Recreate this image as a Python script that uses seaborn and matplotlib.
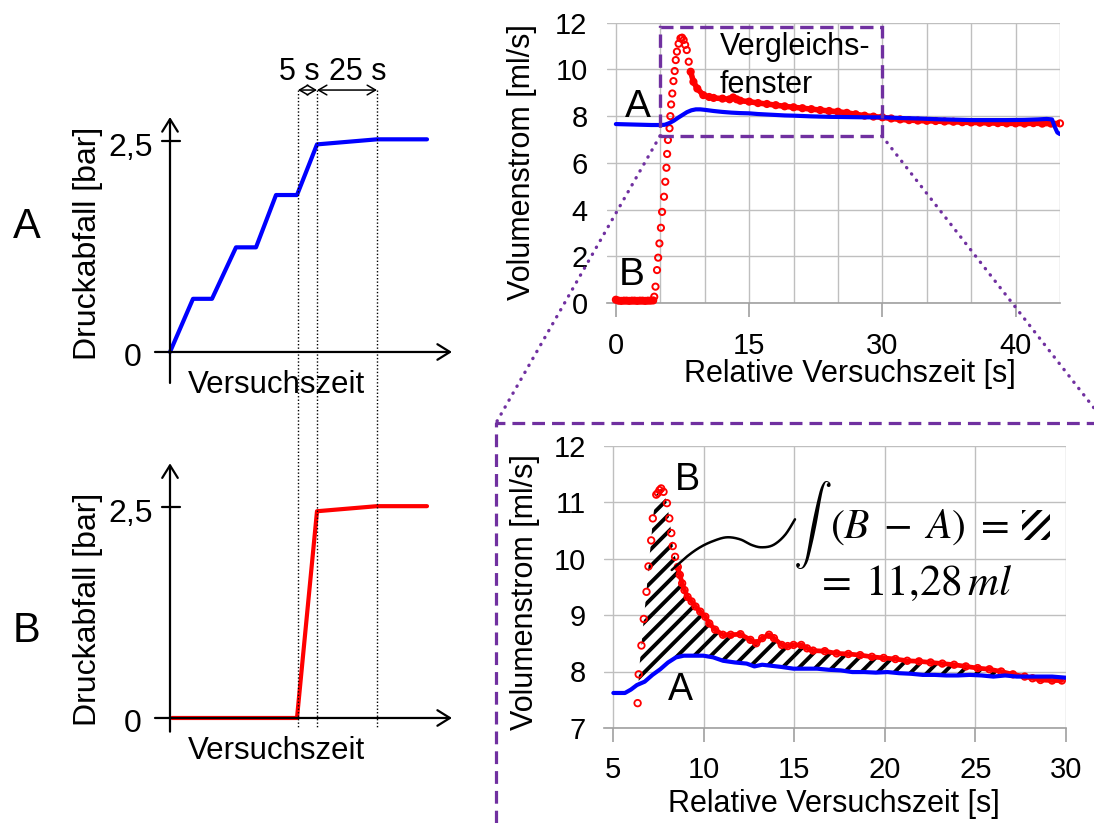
import numpy as np
import pandas as pd
import matplotlib
matplotlib.use("Agg")
import matplotlib.pyplot as plt
import matplotlib.transforms as mtransforms
from matplotlib.lines import Line2D
from matplotlib.patches import Rectangle
import seaborn as sns

# ---------------- data ----------------
# schematic pressure curves (arbitrary time units)
schem_t_A = [0, 1.15, 2.1, 3.3, 4.3, 5.3, 6.35, 7.35, 10.35, 12.85]
schem_p_A = [0, 0.63, 0.63, 1.24, 1.24, 1.86, 1.86, 2.46, 2.52, 2.52]
schem_t_B = [0.1, 6.35, 7.35, 10.35, 12.85]
schem_p_B = [0, 0, 2.45, 2.51, 2.51]
guide_times = [6.4, 7.35, 10.35]
guide_labels = ["5 s", "25 s"]
guide_label_t = [6.45, 9.39]

# overview chart (0-50 s)
red_t_top = [0.0, 0.3, 0.6, 0.9, 1.2, 1.5, 1.8, 2.1, 2.4, 2.7, 3.0, 3.3, 3.6, 3.9, 4.2,
             4.32, 4.46, 4.63, 4.76, 4.90, 5.07, 5.20, 5.42, 5.56, 5.69, 5.77, 5.86, 6.04,
             6.13, 6.22, 6.35, 6.48, 6.62, 6.74, 6.87, 7.06, 7.27, 7.45, 7.63, 7.80, 7.98,
             8.20, 8.42, 8.73, 9.17, 9.84,
             10.5, 11, 12, 12.8, 13.2, 13.6, 14, 15, 16, 17, 18, 19, 20, 21, 22, 23, 24, 25,
             26, 27, 28, 29, 30, 31, 32, 33, 34, 35, 36, 37, 38, 39, 40, 41, 42, 43, 44, 45,
             46, 47, 48, 49, 50]
red_v_top = [0.14, 0.10, 0.09, 0.10, 0.10, 0.09, 0.10, 0.10, 0.09, 0.10, 0.10, 0.09, 0.10, 0.10, 0.11,
             0.27, 0.70, 1.41, 1.94, 2.55, 3.22, 3.90, 4.55, 5.19, 5.79, 6.38, 6.98, 7.48,
             8.00, 8.50, 8.97, 9.50, 9.93, 10.40, 10.76, 11.10, 11.33, 11.36, 11.26, 11.05, 10.83,
             10.33, 9.90, 9.47, 9.18, 8.90,
             8.82, 8.78, 8.75, 8.72, 8.80, 8.72, 8.66, 8.62, 8.56, 8.52, 8.47, 8.42, 8.38, 8.34,
             8.30, 8.26, 8.22, 8.19, 8.14, 8.08, 8.02, 7.98, 7.95, 7.90, 7.86, 7.83, 7.81, 7.80,
             7.79, 7.77, 7.76, 7.74, 7.73, 7.72, 7.71, 7.70, 7.69, 7.69, 7.68, 7.70, 7.68, 7.68, 7.69]
blue_t_top = [0, 1, 2, 3, 4, 5, 5.5, 6, 6.5, 7, 7.5, 8, 8.5, 9, 9.5, 10, 11, 12, 13, 14, 15, 16,
              17, 18, 19, 20, 22, 24, 26, 28, 30, 32, 34, 36, 38, 40, 42, 44, 46, 47.5, 48.5,
              49.1, 49.4, 49.7, 50]
blue_v_top = [7.66, 7.65, 7.64, 7.63, 7.62, 7.62, 7.63, 7.70, 7.80, 7.93, 8.05, 8.17, 8.25, 8.29,
              8.29, 8.27, 8.22, 8.18, 8.15, 8.13, 8.12, 8.09, 8.07, 8.05, 8.03, 8.02, 7.99, 7.97,
              7.96, 7.95, 7.95, 7.92, 7.90, 7.87, 7.85, 7.83, 7.83, 7.83, 7.84, 7.86, 7.88, 7.86,
              7.55, 7.30, 7.23]
top_xticks = [0, 15, 30, 45]
top_xticklabels = ["0", "15", "30", "40"]
window = (5, 30, 7.15, 11.83)  # comparison window: t0, t1, v0, v1

# zoomed chart (5-30 s)
red_t_zoom = [6.34, 6.40, 6.55, 6.68, 6.83, 6.94, 7.09, 7.18, 7.37, 7.46, 7.55, 7.64, 7.77, 7.96,
              8.09, 8.20, 8.28, 8.41, 8.56, 8.67, 8.80, 8.93, 9.10, 9.32, 9.54, 9.80, 10.08, 10.30,
              10.62, 11.05, 11.48, 12.02, 12.57, 12.89, 13.22, 13.60, 13.87, 14.30, 14.63, 14.95,
              15.38, 15.70, 16.03, 16.68, 17.33, 17.98, 18.63, 19.28, 19.93, 20.58, 21.23, 21.88,
              22.52, 23.17, 23.82, 24.47, 25.12, 25.77, 26.42, 27.07, 27.72, 28.15, 28.59, 29.23, 29.77]
red_v_zoom = [7.44, 7.95, 8.46, 8.93, 9.41, 9.86, 10.32, 10.71, 11.13, 11.16, 11.21, 11.24, 11.18,
              10.98, 10.71, 10.45, 10.22, 10.03, 9.85, 9.71, 9.56, 9.44, 9.32, 9.24, 9.15, 9.06,
              8.97, 8.85, 8.74, 8.65, 8.65, 8.66, 8.56, 8.50, 8.59, 8.65, 8.59, 8.47, 8.45, 8.47,
              8.47, 8.41, 8.37, 8.36, 8.32, 8.31, 8.29, 8.26, 8.24, 8.22, 8.19, 8.18, 8.16, 8.14,
              8.12, 8.09, 8.06, 8.04, 8.00, 7.95, 7.91, 7.88, 7.85, 7.84, 7.84]
blue_t_zoom = [5.0, 5.64, 5.97, 6.30, 6.73, 7.16, 7.59, 8.02, 8.46, 8.89, 9.43, 9.97, 10.52, 11.06,
               11.71, 12.36, 12.79, 13.22, 13.76, 14.30, 14.95, 15.60, 16.25, 16.90, 17.55, 18.20,
               18.85, 19.50, 20.14, 20.79, 21.44, 22.09, 22.74, 23.39, 24.04, 24.69, 25.34, 25.99,
               26.64, 27.28, 27.93, 28.58, 29.23, 30.0]
blue_v_zoom = [7.62, 7.62, 7.68, 7.76, 7.82, 7.94, 8.04, 8.16, 8.25, 8.28, 8.28, 8.28, 8.25, 8.19,
               8.16, 8.14, 8.09, 8.12, 8.10, 8.08, 8.05, 8.05, 8.05, 8.03, 8.02, 7.99, 7.99, 7.98,
               7.99, 7.97, 7.96, 7.94, 7.94, 7.93, 7.93, 7.94, 7.93, 7.91, 7.93, 7.91, 7.91, 7.91,
               7.91, 7.89]
integral_range = (6.4, 27.7)
integral_value = "11{,}28"

# ---------------- style ----------------
sns.set_theme(style="white")
plt.rcParams["font.family"] = ["Liberation Sans", "DejaVu Sans"]
plt.rcParams["mathtext.fontset"] = "stix"
plt.rcParams["hatch.linewidth"] = 2.8
plt.rcParams["hatch.color"] = "black"
for k in ("text.color", "axes.labelcolor", "xtick.color", "ytick.color"):
    plt.rcParams[k] = "black"

RED = "#FF0000"
BLUE = "#0000FF"
PURPLE = "#7030A0"
GRID = "#BFBFBF"
AXIS = "#A0A0A0"

W, H = 1094, 823
fig = plt.figure(figsize=(W / 100, H / 100), dpi=100)
fig.patch.set_facecolor("white")


def axes_px(left, top, right, bottom):
    return fig.add_axes([left / W, 1 - bottom / H, (right - left) / W, (bottom - top) / H])


# ---------------- schematic diagrams ----------------
axA = axes_px(0, 40, 470, 400)
axB = axes_px(0, 406, 470, 766)
arrow_kw = dict(arrowstyle="->,head_length=0.45,head_width=0.28", lw=1.6, color="black",
                shrinkA=0, shrinkB=0, mutation_scale=20)
for ax, tt, pp, col, lab, ylow, ytop, lab_y in [
        (axA, schem_t_A, schem_p_A, BLUE, "A", -0.367, 2.784, 1.347),
        (axB, schem_t_B, schem_p_B, RED, "B", -0.162, 3.018, 0.904)]:
    ax.set_xlim(-8.5, 15)
    ax.set_ylim(-0.569, 3.697)
    ax.axis("off")
    sns.lineplot(x=tt, y=pp, ax=ax, color=col, linewidth=3, estimator=None, sort=False)
    ax.annotate("", xy=(0, ytop), xytext=(0, ylow), arrowprops=arrow_kw, annotation_clip=False)
    ax.annotate("", xy=(14.1, 0), xytext=(-0.75, 0), arrowprops=arrow_kw, annotation_clip=False)
    ax.plot([-0.4, 0.5], [2.5, 2.5], color="black", lw=1.6)
    ax.text(-0.85, 2.32, "2,5", ha="right", va="baseline", fontsize=23)
    ax.text(-1.4, -0.162, "0", ha="right", va="baseline", fontsize=23)
    ax.text(-4.1, 1.29, "Druckabfall [bar]", rotation=90, ha="center", va="center", fontsize=23)
    ax.text(5.3, -0.485, "Versuchszeit", ha="center", va="baseline", fontsize=22.5)
    ax.text(-7.15, lab_y, lab, ha="center", va="baseline", fontsize=30)

# time-window guides
small_arrow = dict(arrowstyle="<->,head_length=0.6,head_width=0.35", lw=1.1, color="black",
                   shrinkA=0, shrinkB=0, mutation_scale=10)
axA.annotate("", xy=(guide_times[1], 3.104), xytext=(guide_times[0], 3.104),
             arrowprops=small_arrow, annotation_clip=False)
axA.annotate("", xy=(guide_times[2], 3.104), xytext=(guide_times[1], 3.104),
             arrowprops=small_arrow, annotation_clip=False)
for lt, lab in zip(guide_label_t, guide_labels):
    axA.text(lt, 3.22, lab, ha="center", va="baseline", fontsize=22)

# ---------------- overview chart ----------------
axT = axes_px(607, 22.7, 1060, 303)
df_rt = pd.DataFrame({"t": red_t_top, "v": red_v_top})
df_bt = pd.DataFrame({"t": blue_t_top, "v": blue_v_top})
for part in (df_rt[df_rt.t <= 4.3], df_rt[df_rt.t >= 8.4]):
    sns.lineplot(data=part, x="t", y="v", ax=axT, color=RED, linewidth=4,
                 estimator=None, sort=False, zorder=3)
sns.scatterplot(data=df_rt, x="t", y="v", ax=axT, color=RED, facecolor="none",
                edgecolor=RED, s=20, linewidth=1.4, marker="o", zorder=4, clip_on=False)
sns.lineplot(data=df_bt, x="t", y="v", ax=axT, color=BLUE, linewidth=3,
             estimator=None, sort=False, zorder=5)
axT.set_xlim(-1, 50)
axT.set_ylim(0, 12)
axT.set_xticks(top_xticks)
axT.set_xticklabels(top_xticklabels)
axT.set_xticks(np.arange(0, 51, 5), minor=True)
axT.set_yticks(np.arange(0, 13, 2))
axT.text(2.43, 7.97, "A", ha="center", va="baseline", fontsize=28, zorder=6)
axT.text(1.81, 0.77, "B", ha="center", va="baseline", fontsize=28, zorder=6)
axT.text(11.72, 10.62, "Vergleichs-", ha="left", va="baseline", fontsize=22, zorder=6)
axT.text(11.72, 8.98, "fenster", ha="left", va="baseline", fontsize=22, zorder=6)
axT.add_patch(Rectangle((window[0], window[2]), window[1] - window[0], window[3] - window[2],
                        fill=False, edgecolor=PURPLE, lw=2.4, linestyle=(0, (4, 2)),
                        zorder=7, clip_on=False))

# ---------------- zoomed chart ----------------
axZ = axes_px(604.3, 445.5, 1066, 728)
df_rz = pd.DataFrame({"t": red_t_zoom, "v": red_v_zoom})
df_bz = pd.DataFrame({"t": blue_t_zoom, "v": blue_v_zoom})
sns.lineplot(data=df_rz[df_rz.t >= 8.5], x="t", y="v", ax=axZ, color=RED, linewidth=3.4,
             estimator=None, sort=False, zorder=3)
sns.scatterplot(data=df_rz, x="t", y="v", ax=axZ, color=RED, facecolor="none",
                edgecolor=RED, s=22, linewidth=1.3, marker="o", zorder=4)
sns.lineplot(data=df_bz, x="t", y="v", ax=axZ, color=BLUE, linewidth=3,
             estimator=None, sort=False, zorder=5)
fill = df_rz[(df_rz.t >= integral_range[0]) & (df_rz.t <= integral_range[1])]
blue_at_red = np.interp(fill.t, df_bz.t, df_bz.v)
axZ.fill_between(fill.t, blue_at_red, fill.v, where=fill.v.values >= blue_at_red,
                 interpolate=True, facecolor="none", edgecolor="black", hatch="//",
                 linewidth=0, zorder=2)
axZ.set_xlim(4.5, 30)
axZ.set_ylim(7, 12)
axZ.set_xticks(np.arange(5, 31, 5))
axZ.set_yticks(np.arange(7, 13, 1))
axZ.text(9.1, 11.21, "B", ha="center", va="baseline", fontsize=27, zorder=6)
axZ.text(8.69, 7.5, "A", ha="center", va="baseline", fontsize=27, zorder=6)

for ax, ylab_xy, xlab_xy, xpad, ypad in [
        (axT, (-0.188, 0.504), (0.536, -0.281), 11, 14),
        (axZ, (-0.172, 0.482), (0.498, -0.296), 10, 13)]:
    ax.grid(True, which="both", color=GRID, lw=1.0)
    ax.set_axisbelow(True)
    for s in ("left", "right", "top"):
        ax.spines[s].set_visible(False)
    ax.spines["bottom"].set_color(AXIS)
    ax.spines["bottom"].set_linewidth(1.2)
    ax.spines["bottom"].set_zorder(1)
    ax.tick_params(axis="x", which="major", bottom=True, length=10, width=1.2, color=AXIS,
                   direction="out", labelsize=21, pad=xpad, labelcolor="black")
    ax.tick_params(axis="x", which="minor", bottom=False, length=0)
    ax.tick_params(axis="y", left=False, length=0, labelsize=21, pad=ypad, labelcolor="black")
    ax.set_xlabel("Relative Versuchszeit [s]", fontsize=22)
    ax.set_ylabel("Volumenstrom [ml/s]", fontsize=22)
    ax.xaxis.set_label_coords(*xlab_xy)
    ax.yaxis.set_label_coords(*ylab_xy)
    ax.xaxis.label.set_verticalalignment("baseline")
    ax.yaxis.label.set_verticalalignment("center")
    ax.set_facecolor("white")

# ---------------- overlay (figure pixel coordinates) ----------------
ov = fig.add_axes([0, 0, 1, 1])
ov.set_xlim(0, W)
ov.set_ylim(H, 0)
ov.axis("off")
ov.set_zorder(10)

# dotted guide lines through both schematics
blend = mtransforms.blended_transform_factory(axA.transData, ov.transData)
for gt in guide_times:
    fig.add_artist(Line2D([gt, gt], [90, 728], transform=blend, color="black", lw=1.0,
                          linestyle=(0, (1, 1.5))))

# purple connectors from the window to the zoom frame
dot_kw = dict(color=PURPLE, lw=2.4, linestyle=(0, (0.1, 2.3)), dash_capstyle="round")
ov.plot([660, 496], [136, 423], **dot_kw)
ov.plot([882, 1094], [136, 408], **dot_kw)
ov.plot([496, 496, 1094], [823, 423, 423], color=PURPLE, lw=2.3, linestyle=(0, (4, 2.2)))


# connector curve from hatched area to the formula
def catmull(points, n=24):
    P = np.array(points, float)
    P = np.vstack([P[0], P, P[-1]])
    out = []
    for i in range(1, len(P) - 2):
        p0, p1, p2, p3 = P[i - 1], P[i], P[i + 1], P[i + 2]
        for s in np.linspace(0, 1, n, endpoint=False):
            out.append(0.5 * (2 * p1 + (-p0 + p2) * s + (2 * p0 - 5 * p1 + 4 * p2 - p3) * s ** 2
                              + (-p0 + 3 * p1 - 3 * p2 + p3) * s ** 3))
    out.append(P[-2])
    return np.array(out)


curve_pts = [(671.7, 570), (686.7, 556.7), (700, 547.3), (713.3, 541), (726.7, 537.3),
             (740, 539.3), (751.7, 545), (761.7, 547.3), (773.3, 545), (785, 535), (795, 519.3)]
cv = catmull(curve_pts)
ov.plot(cv[:, 0], cv[:, 1], color="black", lw=1.8, solid_capstyle="round")

ov.text(812, 525, r"$\int$", ha="center", va="center", fontsize=28, math_fontfamily="cm")
ov.text(830, 538, r"$(B\;-\;A)\;=$", ha="left", va="baseline", fontsize=30)
ov.add_patch(Rectangle((1022, 510), 28, 30, facecolor="none", edgecolor="black",
                       hatch="//", linewidth=0))
ov.text(815, 595, r"$=\;" + integral_value + r"\,ml$", ha="left", va="baseline", fontsize=31)

fig.savefig("out.png", dpi=100, facecolor="white")
